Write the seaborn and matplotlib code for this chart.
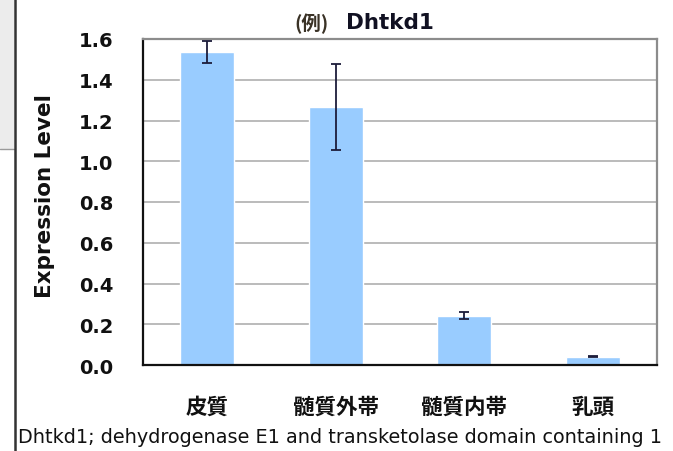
import matplotlib
matplotlib.use("Agg")
import matplotlib.pyplot as plt
import seaborn as sns
import pandas as pd
from matplotlib.patches import Rectangle
from matplotlib.lines import Line2D

# Expression levels by kidney region
regions = ["皮質", "髄質外帯", "髄質内帯", "乳頭"]
expression = [1.536, 1.266, 0.242, 0.041]
errors = [0.052, 0.210, 0.017, 0.003]
yticks = [0.0, 0.2, 0.4, 0.6, 0.8, 1.0, 1.2, 1.4, 1.6]

df = pd.DataFrame({"region": regions, "expression": expression})

sns.set_theme(style="white")
plt.rcParams["font.family"] = ["DejaVu Sans", "Noto Sans CJK JP"]

fig = plt.figure(figsize=(6.73, 4.52), dpi=100)
W, H = 673, 452
ax = fig.add_axes([143 / W, 1 - 366 / H, (657 - 143) / W, (366 - 40) / H])

sns.barplot(data=df, x="region", y="expression", color="#99CCFF",
            saturation=1, width=0.42, ax=ax, errorbar=None, zorder=2)
ax.errorbar(range(len(regions)), expression, yerr=errors, fmt="none",
            ecolor="#1c1c3a", elinewidth=1.3, capsize=3.5, capthick=1.3,
            zorder=3)

ax.set_ylim(0, 1.6)
ax.set_xlim(-0.5, len(regions) - 0.5)
ax.set_yticks(yticks)
ax.set_yticklabels([f"{v:.1f}" for v in yticks], fontsize=14,
                   fontweight="bold", color="#111111")
for v in yticks[1:-1]:
    ax.axhline(v, color="#a8a8a8", lw=1.1, zorder=1)

# category boundary ticks along the x axis
ax.set_xticks([0.5, 1.5, 2.5], minor=True)
ax.set_xticks(range(len(regions)))
ax.set_xticklabels(regions, family=["Noto Sans CJK JP"], fontweight="bold",
                   fontsize=15.5, color="#111111")
ax.tick_params(axis="x", which="major", length=0, pad=22.5)
ax.tick_params(axis="x", which="minor", direction="in", length=5,
               width=1.2, color="#111111")
ax.tick_params(axis="y", direction="in", length=5, width=1.2,
               color="#333333", pad=21.5)

ax.set_xlabel("")
ax.set_ylabel("Expression Level", fontsize=15.5, fontweight="bold",
              color="#111111", va="center")
ax.yaxis.set_label_coords(-(143 - 45) / (657 - 143), 0.52)

for side in ["left", "bottom"]:
    ax.spines[side].set_color("#111111")
    ax.spines[side].set_linewidth(1.6)
for side in ["top", "right"]:
    ax.spines[side].set_color("#8c8c8c")
    ax.spines[side].set_linewidth(1.6)

# title
fig.text(329 / W, 1 - 24 / H, "(例)", family=["Noto Sans CJK JP", "DejaVu Sans"],
         fontsize=14, fontweight="bold", color="#3a3226",
         ha="right", va="center")
fig.text(346 / W, 1 - 23 / H, "Dhtkd1", fontsize=15.5, fontweight="bold",
         color="#111122", ha="left", va="center")

# caption
fig.text(18 / W, 1 - 438 / H,
         "Dhtkd1; dehydrogenase E1 and transketolase domain containing 1",
         fontsize=13.9, color="#111111", ha="left", va="center")

# side panel frame
fig.patches.append(Rectangle((0, 1 - 150 / H), 14 / W, 150 / H,
                             transform=fig.transFigure, facecolor="#ececec",
                             edgecolor="none", zorder=0))
fig.lines.append(Line2D([0, 14 / W], [1 - 150 / H, 1 - 150 / H],
                        transform=fig.transFigure, color="#9a9a9a", lw=1))
fig.lines.append(Line2D([14.5 / W, 14.5 / W], [0, 1],
                        transform=fig.transFigure, color="#333333", lw=1.8))

fig.savefig("out.png", dpi=100)
